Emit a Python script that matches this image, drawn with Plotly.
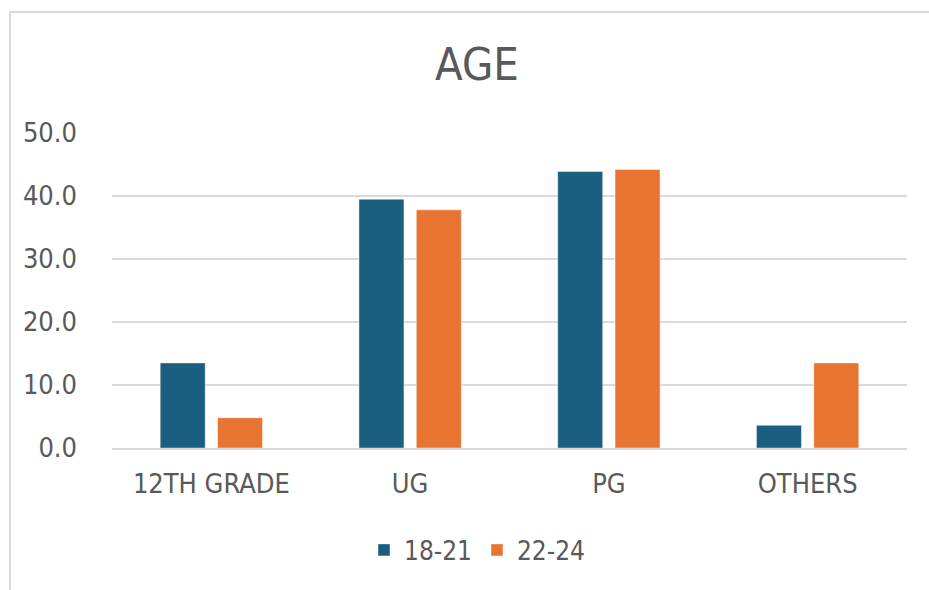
import plotly.graph_objects as go

# Education level by age group (percent)
categories = ["12TH GRADE", "UG", "PG", "OTHERS"]
series_names = ["18-21", "22-24"]
age_18_21 = [13.5, 39.5, 43.9, 3.6]
age_22_24 = [4.8, 37.8, 44.2, 13.5]
y_ticks = [0, 10, 20, 30, 40, 50]
y_tick_labels = ["0.0", "10.0", "20.0", "30.0", "40.0", "50.0"]

BLUE = "#1A5E80"
ORANGE = "#E87432"
TEXT = "#595959"
GRID = "#D9D9D9"
FONT = "Liberation Sans Narrow, Arial Narrow, DejaVu Sans Condensed, sans-serif"

W, H = 929, 590
ML, MR, MT, MB = 112, 22, 133, 142
plot_w = W - ML - MR
plot_h = H - MT - MB

fig = go.Figure()
fig.add_trace(go.Bar(
    x=categories, y=age_18_21, name=series_names[0],
    marker=dict(color=BLUE, line=dict(color="rgba(255,255,255,0.45)", width=1)),
))
fig.add_trace(go.Bar(
    x=categories, y=age_22_24, name=series_names[1],
    marker=dict(color=ORANGE, line=dict(color="rgba(255,255,255,0.45)", width=1)),
))


def px_x(px):
    return (px - ML) / plot_w


def px_y(py):
    return (H - MB - py) / plot_h


# outer chart frame, running off the right and bottom of the page
fig.add_shape(
    type="rect", xref="paper", yref="paper",
    x0=px_x(10), x1=px_x(W + 20), y0=px_y(H + 20), y1=px_y(12),
    line=dict(color=GRID, width=2), fillcolor="rgba(0,0,0,0)", layer="below",
)

fig.update_layout(
    width=W, height=H,
    margin=dict(l=ML, r=MR, t=MT, b=MB, pad=0),
    paper_bgcolor="white", plot_bgcolor="white",
    font=dict(family=FONT, color=TEXT, size=27),
    title=dict(
        text="AGE", x=477 / W, xref="container", xanchor="center",
        y=1 - 64 / H, yref="container", yanchor="middle",
        font=dict(family=FONT, size=45, color=TEXT),
    ),
    barmode="group", bargap=0.423, bargroupgap=0.215,
    showlegend=True,
    legend=dict(
        orientation="h", xref="container", yref="container",
        x=477 / W, xanchor="center", y=1 - 550 / H, yanchor="middle",
        font=dict(family=FONT, size=26, color=TEXT),
        bgcolor="rgba(0,0,0,0)", itemclick=False,
    ),
    xaxis=dict(
        showgrid=False, showline=True, linecolor=GRID, linewidth=1.5,
        ticks="", tickfont=dict(family=FONT, size=27, color=TEXT),
        ticklabelstandoff=11, fixedrange=True,
    ),
    yaxis=dict(
        range=[0, 50], tickvals=y_ticks, ticktext=y_tick_labels,
        showgrid=True, gridcolor=GRID, gridwidth=1.5,
        zeroline=False, showline=False, ticks="",
        tickfont=dict(family=FONT, size=27, color=TEXT),
        ticklabelstandoff=34, fixedrange=True,
    ),
)

fig.write_html("out.html")
